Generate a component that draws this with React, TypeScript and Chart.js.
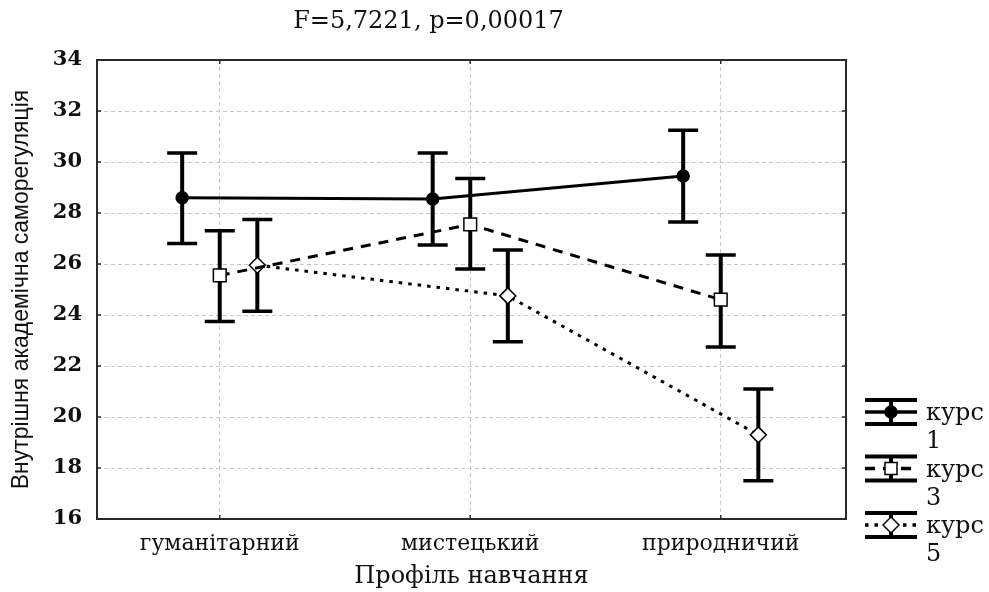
import React, { useEffect, useRef } from "react";
import { Chart, registerables } from "chart.js";

Chart.register(...registerables);

const categories = ["гуманітарний", "мистецький", "природничий"];
const seriesNames = ["курс", "курс", "курс"];
const seriesNumbers = ["1", "3", "5"];

const kurs1Mean = [28.6, 28.55, 29.45];
const kurs1Low = [26.8, 26.75, 27.65];
const kurs1High = [30.35, 30.35, 31.25];

const kurs3Mean = [25.55, 27.55, 24.6];
const kurs3Low = [23.75, 25.8, 22.75];
const kurs3High = [27.3, 29.35, 26.35];

const kurs5Mean = [25.95, 24.75, 19.3];
const kurs5Low = [24.15, 22.95, 17.5];
const kurs5High = [27.75, 26.55, 21.1];

const yMin = 16;
const yMax = 34;
const yStep = 2;

const titleText = "F=5,7221, p=0,00017";
const xTitle = "Профіль навчання";
const yTitle = "Внутрішня академічна саморегуляція";

const SERIF = "'DejaVu Serif', 'Liberation Serif', serif";
const SANS = "'Liberation Sans', Arial, sans-serif";
const SERIES_OFFSET = [-0.15, 0, 0.15];

export default function App() {
  const ref = useRef<HTMLCanvasElement>(null);

  useEffect(() => {
    document.body.style.margin = "0";
    const canvas = ref.current!;
    const means = [kurs1Mean, kurs3Mean, kurs5Mean];
    const lows = [kurs1Low, kurs3Low, kurs5Low];
    const highs = [kurs1High, kurs3High, kurs5High];
    const dashes = [[], [10, 8], [3.5, 6]];
    const pointStyles = ["circle", "rect", "rectRot"];
    const pointRadii = [6, 9, 8];
    const pointFills = ["#000", "#fff", "#fff"];

    const datasets = means.map((m, s) => ({
      label: seriesNames[s] + " " + seriesNumbers[s],
      data: m.map((v, i) => ({ x: i + 1 + SERIES_OFFSET[s], y: v })),
      showLine: true,
      borderColor: "#000",
      borderWidth: 3,
      borderDash: dashes[s],
      pointStyle: pointStyles[s],
      pointRadius: pointRadii[s],
      pointBackgroundColor: pointFills[s],
      pointBorderColor: "#000",
      pointBorderWidth: 1.5,
      tension: 0,
    }));

    const errorBars = {
      id: "errorBars",
      beforeDatasetsDraw(chart: any) {
        const c = chart.ctx;
        const ys = chart.scales.y;
        const ca = chart.chartArea;
        c.save();
        c.strokeStyle = "#2a2a2a";
        c.lineWidth = 2;
        c.strokeRect(ca.left, ca.top, ca.right - ca.left, ca.bottom - ca.top);
        c.lineWidth = 1.5;
        ys.ticks.forEach((t: any) => {
          const py = ys.getPixelForValue(t.value);
          c.beginPath();
          c.moveTo(ca.left, py);
          c.lineTo(ca.left + 4, py);
          c.moveTo(ca.right, py);
          c.lineTo(ca.right - 4, py);
          c.stroke();
        });
        chart.scales.x.ticks.forEach((t: any) => {
          const px = chart.scales.x.getPixelForValue(t.value);
          c.beginPath();
          c.moveTo(px, ca.top);
          c.lineTo(px, ca.top + 4);
          c.moveTo(px, ca.bottom);
          c.lineTo(px, ca.bottom - 4);
          c.stroke();
        });
        c.strokeStyle = "#000";
        c.setLineDash([]);
        means.forEach((m, s) => {
          const meta = chart.getDatasetMeta(s);
          m.forEach((_v, i) => {
            const px = meta.data[i].x;
            const yl = ys.getPixelForValue(lows[s][i]);
            const yh = ys.getPixelForValue(highs[s][i]);
            c.lineWidth = 4;
            c.beginPath();
            c.moveTo(px, yl);
            c.lineTo(px, yh);
            c.stroke();
            c.lineWidth = 3.5;
            c.beginPath();
            c.moveTo(px - 15, yl);
            c.lineTo(px + 15, yl);
            c.moveTo(px - 15, yh);
            c.lineTo(px + 15, yh);
            c.stroke();
          });
        });
        c.restore();
      },
    };

    const decorations = {
      id: "decorations",
      afterDraw(chart: any) {
        const c = chart.ctx;
        const ca = chart.chartArea;
        c.save();
        c.fillStyle = "#111";
        c.font = `24px ${SERIF}`;
        c.textAlign = "center";
        c.textBaseline = "middle";
        c.fillText(titleText, (ca.left + ca.right) / 2 - 43, 22);

        const x0 = ca.right + 19;
        const w = 52;
        means.forEach((_m, s) => {
          const cy = 412 + s * 56.5;
          c.strokeStyle = "#000";
          c.setLineDash([]);
          c.lineWidth = 4;
          c.beginPath();
          c.moveTo(x0, cy - 12);
          c.lineTo(x0 + w, cy - 12);
          c.moveTo(x0, cy + 12);
          c.lineTo(x0 + w, cy + 12);
          c.moveTo(x0 + w / 2, cy - 12);
          c.lineTo(x0 + w / 2, cy + 12);
          c.stroke();
          c.lineWidth = 3.5;
          c.setLineDash(dashes[s] as number[]);
          c.beginPath();
          c.moveTo(x0, cy);
          c.lineTo(x0 + w, cy);
          c.stroke();
          c.setLineDash([]);
          c.fillStyle = pointFills[s];
          c.lineWidth = 1.5;
          c.beginPath();
          if (s === 0) {
            c.arc(x0 + w / 2, cy, 6, 0, Math.PI * 2);
          } else if (s === 1) {
            c.rect(x0 + w / 2 - 6, cy - 6, 12, 12);
          } else {
            c.moveTo(x0 + w / 2, cy - 8);
            c.lineTo(x0 + w / 2 + 8, cy);
            c.lineTo(x0 + w / 2, cy + 8);
            c.lineTo(x0 + w / 2 - 8, cy);
            c.closePath();
          }
          c.fill();
          c.stroke();
          c.fillStyle = "#111";
          c.font = `24px ${SERIF}`;
          c.textAlign = "left";
          c.fillText(seriesNames[s], x0 + 61, cy + 2);
          c.fillText(seriesNumbers[s], x0 + 61, cy + 30);
        });
        c.restore();
      },
    };

    const chart = new Chart(canvas, {
      type: "scatter",
      data: { datasets: datasets as any },
      options: {
        animation: false,
        responsive: false,
        layout: { padding: { top: 60, right: 143, left: 0, bottom: 0 } },
        plugins: { legend: { display: false }, tooltip: { enabled: false } },
        scales: {
          x: {
            type: "linear",
            min: 0.51,
            max: 3.5,
            afterBuildTicks: (scale: any) => {
              scale.ticks = categories.map((_c, i) => ({ value: i + 1 }));
            },
            afterFit: (scale: any) => {
              scale.height = 73;
            },
            ticks: {
              callback: (v: any) => categories[Math.round(v) - 1] ?? "",
              color: "#111",
              font: { family: SERIF, size: 22 },
              padding: 12,
              maxRotation: 0,
            },
            grid: { color: "#c8c8c8", lineWidth: 1, drawTicks: false },
            border: { display: false, dash: [4, 3] },
            title: {
              display: true,
              text: xTitle,
              color: "#111",
              font: { family: SERIF, size: 24 },
              padding: { top: 0, bottom: 1 },
            },
          },
          y: {
            min: yMin,
            max: yMax,
            afterFit: (scale: any) => {
              scale.width = 97;
            },
            ticks: {
              stepSize: yStep,
              color: "#111",
              font: { family: SERIF, size: 21, weight: "bold" },
              padding: 15,
            },
            grid: { color: "#c8c8c8", lineWidth: 1, drawTicks: false },
            border: { display: false, dash: [4, 3] },
            title: {
              display: true,
              text: yTitle,
              color: "#111",
              font: { family: SANS, size: 23 },
              padding: { top: 8, bottom: 0 },
            },
          },
        },
      },
      plugins: [errorBars, decorations],
    } as any);

    return () => chart.destroy();
  }, []);

  return (
    <div style={{ width: 989, height: 592, background: "#fff" }}>
      <canvas ref={ref} width={989} height={592} style={{ display: "block" }} />
    </div>
  );
}
